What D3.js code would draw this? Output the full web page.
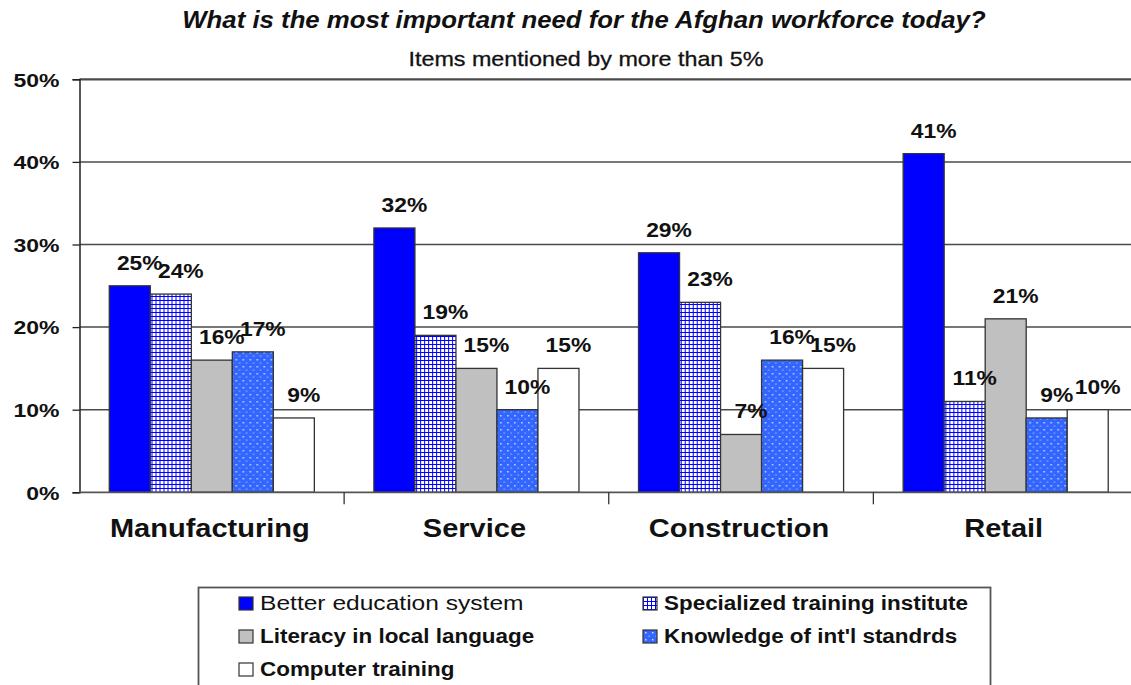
<!DOCTYPE html>
<html>
<head>
<meta charset="utf-8">
<script src="https://cdn.jsdelivr.net/npm/d3@7"></script>
<style>
  html, body { margin: 0; padding: 0; background: #fff; overflow: hidden; }
  svg { display: block; font-family: Arial, "Liberation Sans", sans-serif; }
</style>
</head>
<body>
<svg id="chart" width="1131" height="685"></svg>
<script>
// ---- data ----
const categories = ["Manufacturing", "Service", "Construction", "Retail"];
const seriesNames = [
  "Better education system",
  "Specialized training institute",
  "Literacy in local language",
  "Knowledge of int'l standrds",
  "Computer training"
];
const betterEducation   = [0.25, 0.32, 0.29, 0.41];
const specializedTrain  = [0.24, 0.19, 0.23, 0.11];
const literacyLocal     = [0.16, 0.15, 0.07, 0.21];
const intlStandards     = [0.17, 0.10, 0.16, 0.09];
const computerTraining  = [0.09, 0.15, 0.15, 0.10];
const yTicks = [0, 0.1, 0.2, 0.3, 0.4, 0.5];
const titleText = "What is the most important need for the Afghan workforce today?";
const subtitleText = "Items mentioned by more than 5%";

const seriesValues = [betterEducation, specializedTrain, literacyLocal, intlStandards, computerTraining];

// horizontal stretch helper (the reference text is wider than Arial)
function stretch(sel, k) {
  sel.each(function () {
    const w = this.getComputedTextLength();
    d3.select(this).attr("textLength", w * k).attr("lengthAdjust", "spacingAndGlyphs");
  });
}

// ---- layout ----
const svg = d3.select("#chart");
const defs = svg.append("defs");

const pGrid = defs.append("pattern").attr("id", "pGrid").attr("patternUnits", "userSpaceOnUse")
  .attr("width", 4).attr("height", 4);
pGrid.append("rect").attr("width", 4).attr("height", 4).attr("fill", "#0000ff");
pGrid.append("rect").attr("x", 1).attr("y", 1).attr("width", 3).attr("height", 3).attr("fill", "#ffffff");

const pDot = defs.append("pattern").attr("id", "pDot").attr("patternUnits", "userSpaceOnUse")
  .attr("width", 7).attr("height", 7);
pDot.append("rect").attr("width", 7).attr("height", 7).attr("fill", "#3366ff");
pDot.append("rect").attr("x", 2).attr("y", 2).attr("width", 1.5).attr("height", 1.5).attr("fill", "#c8d8ff");
pDot.append("rect").attr("x", 5.5).attr("y", 5.5).attr("width", 1.2).attr("height", 1.2).attr("fill", "#a8c0ff");

const fills = ["#0000ff", "url(#pGrid)", "#c0c0c0", "url(#pDot)", "#ffffff"];

const plotLeft = 79.5, plotRight = 1138, y0px = 492.3, y50px = 79.3;

const x0 = d3.scaleBand().domain(categories).range([plotLeft, plotRight]).paddingInner(0).paddingOuter(0);
const x1 = d3.scaleBand().domain(d3.range(seriesNames.length)).range([0, x0.bandwidth()])
  .paddingInner(0).paddingOuter(0.726);
const y = d3.scaleLinear().domain([0, 0.5]).range([y0px, y50px]);

// gridlines
svg.append("g").selectAll("line").data(yTicks.filter(d => d > 0)).join("line")
  .attr("x1", plotLeft).attr("x2", 1131)
  .attr("y1", d => y(d)).attr("y2", d => y(d))
  .attr("stroke", "#4a4a4a").attr("stroke-width", d => d === 0.5 ? 2.2 : 1.5);

// y axis
const yAxis = d3.axisLeft(y).tickValues(yTicks).tickFormat(d3.format(".0%")).tickSize(7).tickPadding(13);
const gy = svg.append("g").attr("transform", `translate(${plotLeft},0)`).call(yAxis);
gy.select(".domain").attr("stroke", "#222").attr("stroke-width", 1.5);
gy.selectAll(".tick line").attr("stroke", "#222").attr("stroke-width", 1.3);
gy.selectAll(".tick text").attr("font-size", 19).attr("font-weight", "bold").attr("fill", "#111")
  .attr("font-family", "Arial, 'Liberation Sans', sans-serif").attr("dy", "0.36em");
stretch(gy.selectAll(".tick text"), 1.21);

// bars
const groups = svg.append("g").selectAll("g").data(categories).join("g")
  .attr("transform", d => `translate(${x0(d)},0)`);

const barData = (c, ci) => seriesValues.map((vals, si) => ({ si, v: vals[ci], c }));

groups.selectAll("rect").data((c, ci) => barData(c, ci)).join("rect")
  .attr("x", d => x1(d.si))
  .attr("width", x1.bandwidth())
  .attr("y", d => y(d.v))
  .attr("height", d => y(0) - y(d.v))
  .attr("fill", d => fills[d.si])
  .attr("stroke", "#333")
  .attr("stroke-width", 1.3);

// value labels
const vl = groups.selectAll("text.val").data((c, ci) => barData(c, ci)).join("text")
  .attr("class", "val")
  .attr("x", d => x1(d.si) + x1.bandwidth() / 2 + 10)
  .attr("y", d => y(d.v) - 16)
  .attr("text-anchor", "middle")
  .attr("font-size", 19.5).attr("font-weight", "bold").attr("fill", "#111")
  .text(d => d3.format(".0%")(d.v));
stretch(vl, 1.17);

// x axis line + category ticks
const gx = svg.append("g");
gx.append("line").attr("x1", plotLeft).attr("x2", 1131).attr("y1", y(0)).attr("y2", y(0))
  .attr("stroke", "#555").attr("stroke-width", 1.8);
gx.selectAll("line.ct").data(categories.slice(1)).join("line").attr("class", "ct")
  .attr("x1", d => x0(d)).attr("x2", d => x0(d))
  .attr("y1", y(0)).attr("y2", y(0) + 12)
  .attr("stroke", "#333").attr("stroke-width", 1.3);
const ct = gx.selectAll("text").data(categories).join("text")
  .attr("x", d => x0(d) + x0.bandwidth() / 2 - 2)
  .attr("y", 537)
  .attr("text-anchor", "middle")
  .attr("font-size", 25).attr("font-weight", "bold").attr("fill", "#111")
  .text(d => d);
stretch(ct, 1.16);

// title / subtitle
stretch(svg.append("text").attr("x", 584).attr("y", 28).attr("text-anchor", "middle")
  .attr("font-size", 23).attr("font-weight", "bold").attr("font-style", "italic").attr("fill", "#111")
  .text(titleText), 1.12);
stretch(svg.append("text").attr("x", 586).attr("y", 66).attr("text-anchor", "middle")
  .attr("font-size", 21).attr("fill", "#111").attr("stroke", "#111").attr("stroke-width", 0.3)
  .text(subtitleText), 1.11);

// legend
const lg = svg.append("g");
lg.append("rect").attr("x", 198.5).attr("y", 587.5).attr("width", 792).attr("height", 140)
  .attr("fill", "#fff").attr("stroke", "#555").attr("stroke-width", 1.8);
const legendBold = [false, true, true, true, true];
const li = lg.selectAll("g.item").data(seriesNames).join("g").attr("class", "item")
  .attr("transform", (d, i) => {
    const col = i % 2, row = Math.floor(i / 2);
    return `translate(${col === 0 ? 239 : 643},${597 + row * 33})`;
  });
li.append("rect").attr("width", 14).attr("height", 13)
  .attr("fill", (d, i) => fills[i]).attr("stroke", "#333").attr("stroke-width", 1.2);
const lt = li.append("text").attr("x", 21).attr("y", 13)
  .attr("font-size", 19.5).attr("font-weight", (d, i) => legendBold[i] ? "bold" : "normal")
  .attr("fill", "#111")
  .text(d => d);
lt.each(function (d, i) { stretch(d3.select(this), legendBold[i] ? 1.15 : 1.26); });
</script>
</body>
</html>
